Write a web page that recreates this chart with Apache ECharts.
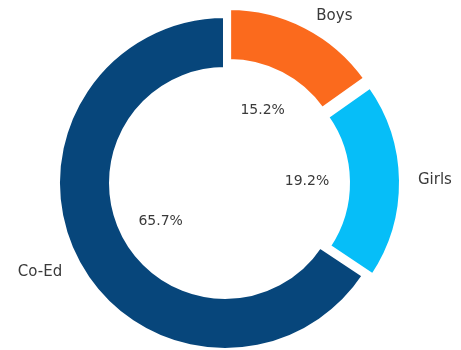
<!DOCTYPE html>
<html>
<head>
<meta charset="utf-8">
<script src="https://cdn.jsdelivr.net/npm/echarts@6/dist/echarts.min.js"></script>
<style>
  html, body { margin: 0; padding: 0; background: #ffffff; }
  #chart { width: 461px; height: 350px; }
</style>
</head>
<body>
<div id="chart"></div>
<script>
// School types and their share of the total (percent)
const categories = ['Boys', 'Girls', 'Co-Ed'];
const shares = [15.2, 19.2, 65.7];
const pulledOut = [true, true, false];
const sliceColors = ['#fb6a1d', '#06bef8', '#07467b'];

const chart = echarts.init(document.getElementById('chart'), null, { renderer: 'canvas' });

const center = [225, 183];
const explode = 9;
const textColor = '#3a3a3a';
const fontFamily = '"DejaVu Sans", sans-serif';

const ringData = categories.map((name, i) => {
  const item = {
    name: name,
    value: shares[i],
    selected: pulledOut[i],
    itemStyle: { color: sliceColors[i] }
  };
  // the lower-left label sits a little lower than the radial anchor
  if (!pulledOut[i]) item.label = { offset: [0, 5] };
  return item;
});

// Invisible full pie used only to place the percentage labels inside the hole
const pctData = categories.map((name, i) => ({
  name: name,
  value: shares[i],
  selected: pulledOut[i],
  itemStyle: { color: 'rgba(0,0,0,0)' }
}));

chart.setOption({
  animation: false,
  backgroundColor: '#ffffff',
  series: [
    {
      type: 'pie',
      center: center,
      radius: [114, 167],
      startAngle: 90,
      clockwise: true,
      selectedMode: 'multiple',
      selectedOffset: explode,
      avoidLabelOverlap: false,
      silent: true,
      itemStyle: { borderColor: '#ffffff', borderWidth: 4 },
      label: {
        show: true,
        position: 'outside',
        formatter: '{b}',
        color: textColor,
        fontFamily: fontFamily,
        fontSize: 15,
        distanceToLabelLine: 5,
        offset: [0, 1]
      },
      labelLine: { show: false, length: 12, length2: 0 },
      emphasis: { disabled: true },
      select: { itemStyle: { borderColor: '#ffffff', borderWidth: 4 } },
      data: ringData
    },
    {
      type: 'pie',
      center: center,
      radius: [0, 140],
      startAngle: 90,
      clockwise: true,
      selectedMode: 'multiple',
      selectedOffset: explode,
      avoidLabelOverlap: false,
      silent: true,
      z: 3,
      itemStyle: { borderWidth: 0 },
      label: {
        show: true,
        position: 'inside',
        formatter: (p) => p.value.toFixed(1) + '%',
        color: textColor,
        fontFamily: fontFamily,
        fontSize: 14,
        offset: [0, 4]
      },
      labelLine: { show: false },
      emphasis: { disabled: true },
      select: { itemStyle: { color: 'rgba(0,0,0,0)', borderWidth: 0 } },
      data: pctData
    }
  ]
});
</script>
</body>
</html>
